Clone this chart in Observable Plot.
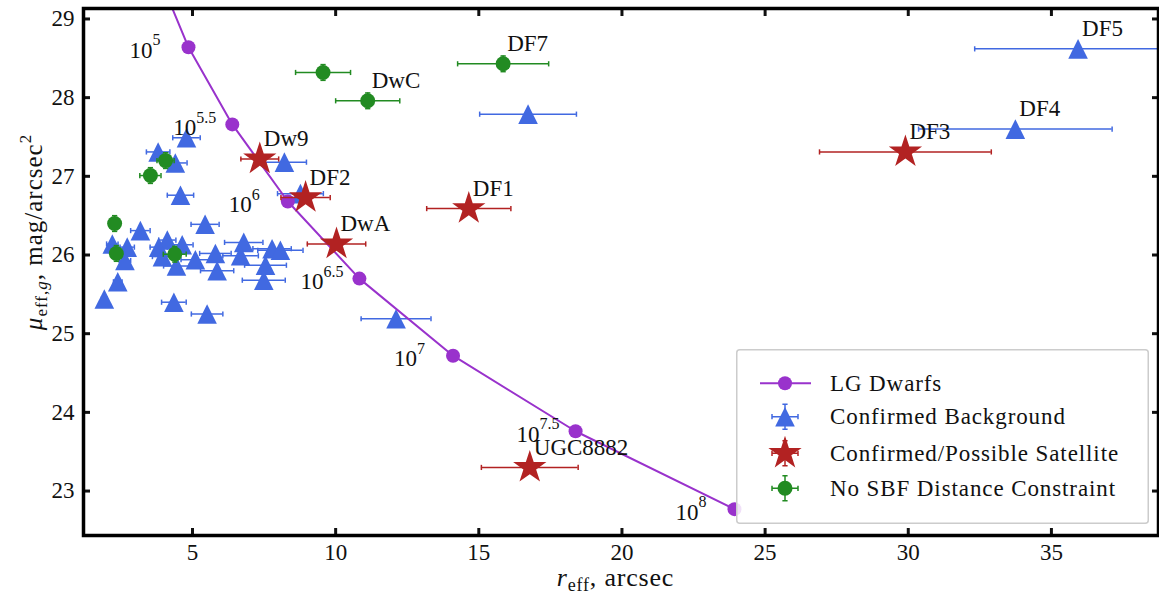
<!DOCTYPE html>
<html><head><meta charset="utf-8">
<script src="https://cdn.jsdelivr.net/npm/d3@7"></script>
<script src="https://cdn.jsdelivr.net/npm/@observablehq/plot@0.6"></script>
<style>
body{margin:0;background:#fff;}
#wrap{position:relative;width:1159px;height:595px;font-family:"Liberation Serif",serif;}
#legend{position:absolute;left:736px;top:349px;}
</style></head><body><div id="wrap"></div>
<script>
// ---------------- data ----------------
// LG dwarfs track (stellar mass 10^k)
const lgReff = [3.74, 4.86, 6.39, 8.33, 10.83, 14.10, 18.38, 23.93];
const lgMu   = [29.62, 28.64, 27.66, 26.68, 25.70, 24.72, 23.76, 22.77];
const lgExp  = ["4.5", "5", "5.5", "6", "6.5", "7", "7.5", "8"];

// Confirmed background
const bgReff = [4.79, 3.80, 4.40, 4.58, 8.21, 8.77, 5.44, 3.18, 2.20, 2.72, 2.64, 2.39, 1.92, 3.82, 4.12, 3.95, 4.64, 5.10, 4.44, 5.80, 5.86, 6.79, 6.68, 7.78, 8.07, 7.55, 7.49, 4.35, 5.51, 12.11, 16.72, 33.74, 35.93];
const bgMu   = [27.49, 27.31, 27.17, 26.76, 27.18, 26.78, 26.39, 26.31, 26.14, 26.10, 25.93, 25.66, 25.44, 26.10, 26.19, 25.98, 26.13, 25.94, 25.86, 26.02, 25.80, 26.16, 25.99, 26.08, 26.06, 25.87, 25.68, 25.40, 25.25, 25.19, 27.79, 27.60, 28.62];
const bgErr  = [0.48, 0.41, 0.41, 0.46, 0.77, 0.80, 0.49, 0.34, 0.20, 0.25, 0.20, 0.15, 0.10, 0.30, 0.30, 0.35, 0.38, 0.50, 0.45, 0.55, 0.58, 0.67, 0.62, 0.67, 0.79, 0.73, 0.75, 0.43, 0.55, 1.22, 1.69, 3.38, 3.61];
const bgName = [null, null, null, null, null, null, null, null, null, null, null, null, null, null, null, null, null, null, null, null, null, null, null, null, null, null, null, null, null, null, null, "DF4", "DF5"];

// Confirmed / possible satellites
const satName = ["Dw9", "DF2", "DwA", "DF1", "UGC8882", "DF3"];
const satReff = [7.35, 8.95, 10.03, 14.65, 16.78, 29.90];
const satMu   = [27.22, 26.73, 26.14, 26.59, 23.30, 27.31];
const satErr  = [0.66, 0.86, 1.02, 1.47, 1.69, 3.00];

// No SBF distance constraint
const nsReff  = [2.28, 2.34, 4.38, 3.53, 4.06, 9.56, 11.12, 15.85];
const nsMu    = [26.40, 26.02, 26.01, 27.01, 27.20, 28.32, 27.96, 28.43];
const nsErr   = [0.10, 0.10, 0.40, 0.37, 0.30, 0.96, 1.12, 1.59];
const nsMuErr = [0.10, 0.10, 0.10, 0.10, 0.10, 0.10, 0.10, 0.10];
const nsName  = [null, null, null, null, null, null, "DwC", "DF7"];

const xTicks = [5, 10, 15, 20, 25, 30, 35];
const yTicks = [23, 24, 25, 26, 27, 28, 29];
const xDomain = [1.193, 38.74];
const yDomain = [22.435, 29.133];

// ---------------- build ----------------
const C = {lg: "#9932CC", bg: "#4169E1", sat: "#B22222", ns: "#228B22"};
const rows = (xs, ys, es, names, yes) => xs.map((x, i) => ({x, y: ys[i], e: es[i], ye: yes ? yes[i] : 0, name: names ? names[i] : null}));
const bg = rows(bgReff, bgMu, bgErr, bgName);
const sat = rows(satReff, satMu, satErr, satName);
const ns = rows(nsReff, nsMu, nsErr, nsName, nsMuErr);
const lg = lgReff.map((x, i) => ({x, y: lgMu[i], exp: lgExp[i]}));
const lgShown = lg.filter(d => d.y <= yDomain[1] && d.y >= yDomain[0]);

const capV = {draw(ctx, size) { const r = Math.sqrt(size / Math.PI); ctx.moveTo(0, -r); ctx.lineTo(0, r); }};
const capH = {draw(ctx, size) { const r = Math.sqrt(size / Math.PI); ctx.moveTo(-r, 0); ctx.lineTo(r, 0); }};
const tri = {draw(ctx, size) { const r = Math.sqrt(size / Math.PI); ctx.moveTo(0, -r); ctx.lineTo(r, r); ctx.lineTo(-r, r); ctx.closePath(); }};
const star = {draw(ctx, size) {
  const R = Math.sqrt(size / Math.PI), r0 = R * 0.381966;
  for (let k = 0; k < 10; k++) {
    const a = -Math.PI / 2 + k * Math.PI / 5, rr = k % 2 ? r0 : R;
    const px = rr * Math.cos(a), py = rr * Math.sin(a);
    k ? ctx.lineTo(px, py) : ctx.moveTo(px, py);
  }
  ctx.closePath();
}};

function xErr(data, color) {
  return [
    Plot.ruleY(data, {y: "y", x1: d => d.x - d.e, x2: d => d.x + d.e, stroke: color, strokeWidth: 1.5, clip: true}),
    Plot.dot(data, {x: d => d.x - d.e, y: "y", symbol: capV, r: 2.6, stroke: color, fill: "none", strokeWidth: 1.5, clip: true}),
    Plot.dot(data, {x: d => d.x + d.e, y: "y", symbol: capV, r: 2.6, stroke: color, fill: "none", strokeWidth: 1.5, clip: true})
  ];
}
function yErr(data, color) {
  return [
    Plot.ruleX(data, {x: "x", y1: d => d.y - d.ye, y2: d => d.y + d.ye, stroke: color, strokeWidth: 1.5, clip: true}),
    Plot.dot(data, {x: "x", y: d => d.y - d.ye, symbol: capH, r: 2.6, stroke: color, fill: "none", strokeWidth: 1.5, clip: true}),
    Plot.dot(data, {x: "x", y: d => d.y + d.ye, symbol: capH, r: 2.6, stroke: color, fill: "none", strokeWidth: 1.5, clip: true})
  ];
}
const nameLabel = data => Plot.text(data.filter(d => d.name), {x: "x", y: "y", text: "name", dx: 4, dy: -20, textAnchor: "start", fontSize: 23, fill: "#111"});

const W = 1159, H = 595, ML = 83, MR = 1, MT = 8, MB = 60;
const chart = Plot.plot({
  width: W, height: H,
  marginLeft: ML, marginRight: MR, marginTop: MT, marginBottom: MB,
  x: {domain: xDomain, label: null},
  y: {domain: yDomain, label: null},
  style: {fontFamily: "Liberation Serif, serif", fontSize: "23px", color: "#111", background: "white", overflow: "visible"},
  marks: [
    // background
    ...xErr(bg, C.bg),
    Plot.dot(bg, {x: "x", y: "y", symbol: tri, r: 9.8, fill: C.bg, stroke: "none", clip: true}),
    // LG dwarfs
    Plot.line(lg, {x: "x", y: "y", stroke: C.lg, strokeWidth: 2, clip: true}),
    Plot.dot(lg, {x: "x", y: "y", r: 7, fill: C.lg, stroke: "none", clip: true}),
    Plot.text(lgShown, {x: "x", y: "y", text: () => "10", dx: -59, dy: 3, textAnchor: "start", fontSize: 23, fill: "#111"}),
    Plot.text(lgShown, {x: "x", y: "y", text: "exp", dx: -36, dy: -7, textAnchor: "start", fontSize: 16, fill: "#111"}),
    // satellites
    ...xErr(sat, C.sat),
    Plot.dot(sat, {x: "x", y: "y", symbol: star, r: 17.5, fill: C.sat, stroke: "none", clip: true}),
    // no SBF
    ...xErr(ns, C.ns),
    ...yErr(ns, C.ns),
    Plot.dot(ns, {x: "x", y: "y", r: 7.5, fill: C.ns, stroke: "none", clip: true}),
    // names
    nameLabel(bg), nameLabel(sat), nameLabel(ns),
    // axes
    Plot.axisX(xTicks, {anchor: "bottom", tickSize: 0, tickPadding: 8, fontSize: 23, tickFormat: d => String(d), label: null}),
    Plot.axisX(xTicks, {anchor: "bottom", tickSize: -7, strokeWidth: 3, tickFormat: () => "", label: null}),
    Plot.axisX(xTicks, {anchor: "top", tickSize: -7, strokeWidth: 3, tickFormat: () => "", label: null}),
    Plot.axisY(yTicks, {anchor: "left", tickSize: 0, tickPadding: 9, fontSize: 23, tickFormat: d => String(d), label: null}),
    Plot.axisY(yTicks, {anchor: "left", tickSize: -7, strokeWidth: 3, tickFormat: () => "", label: null}),
    Plot.axisY(yTicks, {anchor: "right", tickSize: -7, strokeWidth: 3, tickFormat: () => "", label: null}),
    Plot.frame({stroke: "black", strokeWidth: 3.5})
  ]
});

const wrap = document.getElementById("wrap");
wrap.appendChild(chart);

// axis titles with sub/superscripts
const svg = d3.select(chart);
const xl = svg.append("text").attr("text-anchor", "middle")
  .attr("x", (ML + W - MR) / 2 - 5).attr("y", 586)
  .attr("font-size", 26).attr("fill", "#111").attr("letter-spacing", "0.8px");
xl.append("tspan").attr("font-style", "italic").text("r");
xl.append("tspan").attr("font-size", 18).attr("dy", 5).text("eff");
xl.append("tspan").attr("dy", -5).text(", arcsec");

const yl = svg.append("text").attr("text-anchor", "middle")
  .attr("transform", `translate(42,${232}) rotate(-90)`)
  .attr("font-size", 25).attr("fill", "#111").attr("letter-spacing", "1px");
yl.append("tspan").attr("font-style", "italic").text("μ");
yl.append("tspan").attr("font-size", 17).attr("dy", 5).text("eff,");
yl.append("tspan").attr("font-size", 17).attr("font-style", "italic").text("g");
yl.append("tspan").attr("dy", -5).text(", mag/arcsec");
yl.append("tspan").attr("font-size", 17).attr("dy", -11).text("2");

// legend
const legendItems = [
  {label: "LG Dwarfs", color: C.lg, kind: "line"},
  {label: "Confirmed Background", color: C.bg, kind: "tri"},
  {label: "Confirmed/Possible Satellite", color: C.sat, kind: "star"},
  {label: "No SBF Distance Constraint", color: C.ns, kind: "circle"}
];
const lw = 413, lh = 175;
const lg_svg = d3.select(wrap).append("svg").attr("id", "legend").attr("width", lw).attr("height", lh)
  .style("font-family", "Liberation Serif, serif");
lg_svg.append("rect").attr("x", 0.75).attr("y", 0.75).attr("width", lw - 1.5).attr("height", lh - 1.5)
  .attr("rx", 3).attr("fill", "white").attr("fill-opacity", 0.85).attr("stroke", "#cccccc").attr("stroke-width", 1.5);
const rowY = [34.3, 67.7, 104.3, 139.3];
const mx = 49;
legendItems.forEach((it, i) => {
  const g = lg_svg.append("g").attr("transform", `translate(${mx},${rowY[i]})`);
  const c = it.color;
  const errs = () => {
    g.append("path").attr("d", "M-13,0H13M-13,-2.6V2.6M13,-2.6V2.6M0,-12.5V12.5M-2.6,-12.5H2.6M-2.6,12.5H2.6")
      .attr("stroke", c).attr("stroke-width", 1.5).attr("fill", "none");
  };
  if (it.kind === "line") {
    g.append("path").attr("d", "M-25,0H26").attr("stroke", c).attr("stroke-width", 2);
    g.append("circle").attr("r", 7).attr("fill", c);
  } else if (it.kind === "tri") {
    errs();
    g.append("path").attr("d", d3.symbol(tri, Math.PI * 9.8 * 9.8)()).attr("fill", c);
  } else if (it.kind === "star") {
    errs();
    g.append("path").attr("d", d3.symbol(star, Math.PI * 17.5 * 17.5)()).attr("fill", c);
  } else {
    errs();
    g.append("circle").attr("r", 7.5).attr("fill", c);
  }
  lg_svg.append("text").attr("x", 94).attr("y", rowY[i] + 7.5).attr("font-size", 23)
    .attr("letter-spacing", "0.9px").attr("fill", "#111").text(it.label);
});
</script></body></html>
